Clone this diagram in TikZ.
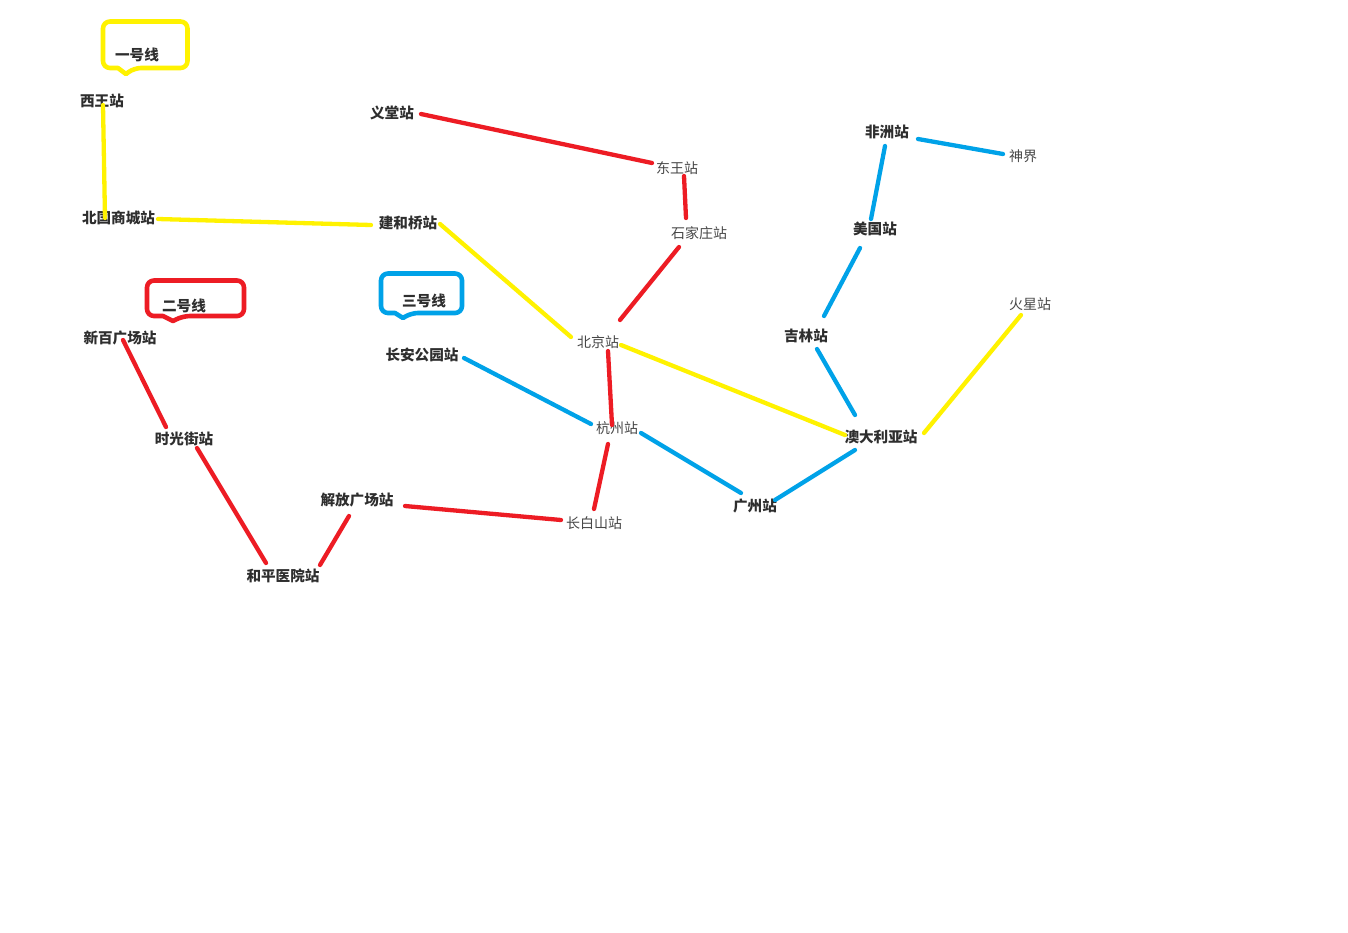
\documentclass[tikz,border=0pt]{standalone}
\usepackage{fontspec}
\newfontfamily\cjk{Noto Sans CJK SC}
\definecolor{lineY}{HTML}{FFF200}
\definecolor{lineR}{HTML}{ED1C24}
\definecolor{lineB}{HTML}{00A2E8}
\tikzset{
  st/.style={font=\cjk\fontsize{14}{14}\selectfont,text=black!72,inner sep=0pt,anchor=center},
  sb/.style={font=\cjk\bfseries\fontsize{14.6}{14.6}\selectfont,text=black!82,inner sep=0pt,anchor=center},
  ly/.style={draw=lineY,line width=4.3pt,line cap=round},
  lr/.style={draw=lineR,line width=4.3pt,line cap=round},
  lb/.style={draw=lineB,line width=4.3pt,line cap=round},
  bubble/.style={line width=4.6pt,line join=round,fill=none}
}
\newcommand{\off}[3]{([shift={(#2,#3)}]#1.center)}
\begin{document}
\begin{tikzpicture}[x=1pt,y=-1pt]
\useasboundingbox (0,0) rectangle (1348,932);
\fill[white] (0,0) rectangle (1348,932);
% legend labels
\node[sb] (t1) at (137,55) {一号线};
\node[sb] (t2) at (184,306) {二号线};
\node[sb] (t3) at (424,301) {三号线};
% stations
\node[sb] (xw) at (102,101) {西王站};
\node[sb] (bg) at (118.5,218) {北国商城站};
\node[sb] (jh) at (408,223) {建和桥站};
\node[st] (bj) at (598,342) {北京站};
\node[sb] (ad) at (881,437) {澳大利亚站};
\node[st] (hx) at (1030,304) {火星站};
\node[sb] (yt) at (392,113) {义堂站};
\node[st] (dw) at (677,168) {东王站};
\node[st] (sj) at (699,233) {石家庄站};
\node[st] (hz) at (617,428) {杭州站};
\node[st] (cb) at (594,523) {长白山站};
\node[sb] (jf) at (357,500) {解放广场站};
\node[sb] (hp) at (283,576) {和平医院站};
\node[sb] (sg) at (184,439) {时光街站};
\node[sb] (xb) at (120,338) {新百广场站};
\node[sb] (fz) at (887,132) {非洲站};
\node[st] (sw) at (1023,156) {神界};
\node[sb] (mg) at (875,229) {美国站};
\node[sb] (jl) at (806,336) {吉林站};
\node[sb] (gz) at (755,506) {广州站};
\node[sb] (ca) at (422,355) {长安公园站};
% callouts
\draw[bubble,draw=lineY,rounded corners=7pt] (103,21.5) -- (187.5,21.5) -- (187.5,68) -- (134,68) {[sharp corners] -- (126,74) -- (118,68)} -- (103,68) -- cycle;
\draw[bubble,draw=lineR,rounded corners=7pt] (147,280.5) -- (244,280.5) -- (244,316) -- (183,316) {[sharp corners] -- (173,321) -- (163,316)} -- (147,316) -- cycle;
\draw[bubble,draw=lineB,rounded corners=7pt] (381,273.5) -- (462,273.5) -- (462,313) -- (411,313) {[sharp corners] -- (403,318) -- (395,313)} -- (381,313) -- cycle;
% line 1
\draw[ly] \off{xw}{1}{4} -- \off{bg}{-13.5}{0};
\draw[ly] \off{bg}{39.5}{1} -- \off{jh}{-37}{2};
\draw[ly] \off{jh}{32}{1} -- \off{bj}{-27}{-5};
\draw[ly] \off{bj}{23}{3} -- \off{ad}{-36}{-2};
\draw[ly] \off{ad}{43}{-4} -- \off{hx}{-9}{11};
% line 2
\draw[lr] \off{yt}{29}{1} -- \off{dw}{-25}{-5};
\draw[lr] \off{dw}{7}{8} -- \off{sj}{-13}{-15};
\draw[lr] \off{sj}{-20}{14} -- \off{bj}{22}{-22};
\draw[lr] \off{bj}{10}{9} -- \off{hz}{-5}{-3};
\draw[lr] \off{hz}{-9}{16} -- \off{cb}{0}{-14};
\draw[lr] \off{cb}{-33}{-3} -- \off{jf}{48}{6};
\draw[lr] \off{jf}{-8}{16} -- \off{hp}{37}{-11};
\draw[lr] \off{hp}{-17}{-13} -- \off{sg}{13}{9};
\draw[lr] \off{sg}{-18}{-12} -- \off{xb}{3}{2};
% line 3
\draw[lb] \off{fz}{31}{7} -- \off{sw}{-20}{-2};
\draw[lb] \off{fz}{-2}{14} -- \off{mg}{-4}{-10};
\draw[lb] \off{mg}{-15}{19} -- \off{jl}{18}{-20};
\draw[lb] \off{jl}{11}{13} -- \off{ad}{-26}{-22};
\draw[lb] \off{ad}{-26}{13} -- \off{gz}{20}{-6};
\draw[lb] \off{gz}{-14}{-13} -- \off{hz}{24}{5};
\draw[lb] \off{hz}{-26}{-4} -- \off{ca}{42}{3};
\end{tikzpicture}
\end{document}
